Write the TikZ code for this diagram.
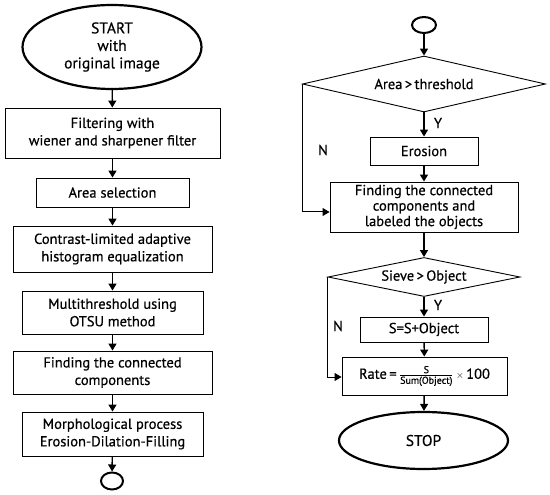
\documentclass[tikz,border=0pt]{standalone}
\usepackage{fontspec}
\setmainfont{PT Sans}[FakeBold=0.5]
\usetikzlibrary{shapes.geometric,arrows.meta}
\newcommand{\bodyf}{\fontsize{14.5}{17.5}\selectfont}
\tikzset{
  box/.style={draw, line width=0.9pt, fill=white, align=center, inner sep=0pt, font=\bodyf},
  term/.style={draw, ellipse, line width=2.2pt, align=center, inner sep=0pt},
  conn/.style={draw, ellipse, line width=2pt, inner sep=0pt},
  dec/.style={draw, diamond, line width=0.9pt, inner sep=0pt, align=center, font=\bodyf},
  arr/.style={line width=1.4pt, -{Triangle[width=8pt,length=7pt]}},
  side/.style={line width=1pt, -{Triangle[width=8pt,length=7pt]}},
  lbl/.style={font=\bodyf, inner sep=0pt}
}
\begin{document}
\begin{tikzpicture}[x=1pt,y=-1pt]
\useasboundingbox (0,0) rectangle (550,495);
% left column
\node[term, minimum width=179pt, minimum height=84pt, font=\fontsize{15.5}{17.5}\selectfont] (start) at (112,47)
  {START\\with\\original image};
\node[box, minimum width=215pt, minimum height=50pt] (f1) at (112.5,133) {Filtering with\\wiener and sharpener filter};
\node[box, minimum width=153pt, minimum height=29pt] (f2) at (112.5,192.5) {Area selection};
\node[box, minimum width=199pt, minimum height=46pt] (f3) at (112.5,249) {Contrast-limited adaptive\\histogram equalization};
\node[box, minimum width=181pt, minimum height=43pt] (f4) at (112.5,312.5) {Multithreshold using\\OTSU method};
\node[box, minimum width=199pt, minimum height=43pt] (f5) at (112.5,372.5) {Finding the connected\\components};
\node[box, minimum width=181pt, minimum height=44pt] (f6) at (112.5,434) {Morphological process\\Erosion-Dilation-Filling};
\node[conn, minimum width=22pt, minimum height=17pt] (c1) at (112,481) {};
\draw[arr] (start) -- (f1);
\draw[arr] (f1) -- (f2);
\draw[arr] (f2) -- (f3);
\draw[arr] (f3) -- (f4);
\draw[arr] (f4) -- (f5);
\draw[arr] (f5) -- (f6);
\draw[arr] (f6) -- (c1);
% right column
\node[conn, minimum width=24pt, minimum height=16pt] (c2) at (424,25) {};
\node[dec, shape aspect=4.3, minimum width=243pt, minimum height=56pt] (d1) at (424,84) {Area\,>\,threshold};
\node[box, minimum width=108pt, minimum height=28pt] (e1) at (424,151) {Erosion};
\node[box, minimum width=188pt, minimum height=50pt, font=\fontsize{14.5}{15.5}\selectfont] (g1) at (424,207) {Finding the connected\\components and\\labeled the objects};
\node[dec, shape aspect=4.9, minimum width=192pt, minimum height=39pt] (d2) at (424,277) {Sieve\,>\,Object};
\node[box, minimum width=128pt, minimum height=25pt] (s1) at (424,329.5) {S=S+Object};
\node[box, minimum width=165pt, minimum height=38pt] (r1) at (424.5,376)
  {Rate\,=\,$\frac{\mbox{\fontsize{10}{11}\selectfont\ \ \ \ S\ \ \ \ }}{\mbox{\fontsize{10}{11}\selectfont Sum(Object)}}$\,{\fontsize{10}{10}\selectfont$\times$}\,100};
\node[term, minimum width=169pt, minimum height=57pt, font=\fontsize{15.5}{17.5}\selectfont] (stop) at (423.5,440.5) {STOP};
\draw[arr] (c2) -- (d1);
\draw[arr] (d1) -- (e1);
\draw[arr] (e1) -- (g1);
\draw[arr] (g1) -- (d2);
\draw[arr] (d2) -- (s1);
\draw[arr] (s1) -- (r1);
\draw[arr] (r1) -- (stop);
\draw[side] (d1.west) |- ([yshift=-5pt]g1.west);
\draw[side] (d2.west) |- ([yshift=-1pt]r1.west);
\node[lbl] (y1) at (438,123) {Y};
\node[lbl] (y2) at (438,305) {Y};
\node[lbl] (n1) at (323,150) {N};
\node[lbl] (n2) at (338,326) {N};
\end{tikzpicture}
\end{document}
